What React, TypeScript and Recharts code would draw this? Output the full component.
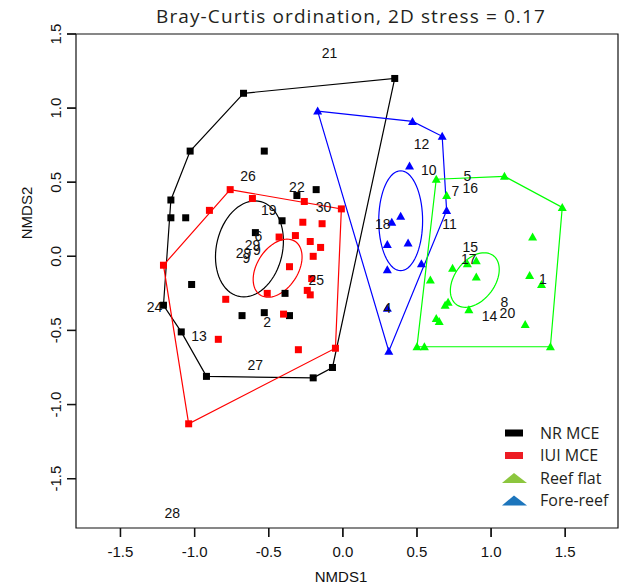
import React from 'react'
import { ScatterChart, Scatter, XAxis, YAxis, ReferenceArea } from 'recharts'

const X_TICKS = [-1.5, -1.0, -0.5, 0.0, 0.5, 1.0, 1.5]
const Y_TICKS = [-1.5, -1.0, -0.5, 0.0, 0.5, 1.0, 1.5]
const X_DOMAIN: [number, number] = [-1.8, 1.856]
const Y_DOMAIN: [number, number] = [-1.833, 1.5]

// NR MCE sites (black squares)
const nrX = [-0.67, 0.35, -0.53, -1.03, -1.16, -1.16, -1.06, -0.18, -0.31, -0.41, -0.59, -1.02, -0.39, -1.21, -1.09, -0.92, -0.2, -0.07, -0.68, -0.53, -0.36]
const nrY = [1.1, 1.2, 0.71, 0.71, 0.38, 0.26, 0.26, 0.45, 0.41, 0.24, 0.16, -0.19, -0.25, -0.33, -0.51, -0.81, -0.82, -0.75, -0.4, -0.38, -0.4]
const nrHull = [0, 1, 17, 16, 15, 14, 13, 4, 3, 0]

// IUI MCE sites (red squares)
const iuiX = [-0.76, -0.9, -1.21, -0.61, -0.26, -0.01, -0.27, -0.14, -0.43, -0.32, -0.22, -0.15, -0.2, -0.36, -0.21, -0.51, -0.24, -0.22, -0.79, -0.4, -0.84, -0.3, -0.05, -1.04]
const iuiY = [0.45, 0.31, -0.06, 0.39, 0.37, 0.32, 0.23, 0.22, 0.13, 0.14, 0.1, 0.06, 0.0, -0.07, -0.15, -0.25, -0.23, -0.26, -0.29, -0.39, -0.56, -0.63, -0.62, -1.13]
const iuiHull = [2, 0, 5, 22, 23, 2]

// Fore-reef sites (blue triangles)
const foreX = [-0.17, 0.47, 0.67, 0.45, 0.7, 0.33, 0.39, 0.3, 0.44, 0.53, 0.3, 0.3, 0.31]
const foreY = [0.98, 0.91, 0.81, 0.61, 0.31, 0.23, 0.27, 0.08, 0.09, -0.05, -0.09, -0.35, -0.64]
const foreHull = [0, 1, 2, 4, 12, 0]

// Reef flat sites (green triangles)
const flatX = [0.63, 1.09, 1.48, 0.7, 1.28, 1.26, 1.34, 0.74, 0.59, 0.84, 0.9, 0.9, 0.69, 0.71, 0.85, 0.63, 0.65, 1.23, 0.5, 0.55, 1.4]
const flatY = [0.52, 0.54, 0.33, 0.41, 0.13, -0.13, -0.19, -0.08, -0.16, -0.05, -0.03, -0.14, -0.33, -0.31, -0.36, -0.42, -0.44, -0.46, -0.61, -0.61, -0.61]
const flatHull = [0, 1, 2, 20, 19, 18, 0]

// ordiellipse: centre, top semi-diameter (ux, uy), horizontal conjugate semi-diameter vx
const ellNR = { cx: -0.63, cy: 0.05, ux: 0.038, uy: 0.324, vx: 0.226 }
const ellIUI = { cx: -0.44, cy: -0.08, ux: 0.064, uy: 0.196, vx: 0.152 }
const ellFore = { cx: 0.39, cy: 0.24, ux: 0.0, uy: 0.337, vx: 0.148 }
const ellFlat = { cx: 0.89, cy: -0.16, ux: 0.064, uy: 0.184, vx: 0.152 }

// site numbers
const siteLabels = ['21', '12', '10', '5', '7', '16', '11', '18', '15', '17', '1', '8', '20', '14', '26', '22', '30', '19', '6', '29', '9', '29', '9', '25', '24', '13', '2', '27', '28', '4']
const siteX = [-0.09, 0.53, 0.58, 0.84, 0.76, 0.86, 0.72, 0.27, 0.86, 0.85, 1.35, 1.09, 1.11, 0.99, -0.64, -0.31, -0.13, -0.5, -0.57, -0.61, -0.58, -0.67, -0.65, -0.18, -1.27, -0.97, -0.51, -0.59, -1.15, 0.3]
const siteY = [1.37, 0.76, 0.58, 0.54, 0.44, 0.46, 0.22, 0.22, 0.06, -0.02, -0.15, -0.31, -0.38, -0.4, 0.54, 0.47, 0.33, 0.31, 0.14, 0.08, 0.04, 0.02, -0.01, -0.16, -0.34, -0.54, -0.44, -0.73, -1.73, -0.35]

const LEGEND = [
  { name: 'NR MCE', color: '#000000', mark: 'square' },
  { name: 'IUI MCE', color: '#ED1C24', mark: 'square' },
  { name: 'Reef flat', color: '#8CC63E', mark: 'triangle' },
  { name: 'Fore-reef', color: '#1C75BC', mark: 'triangle' },
]

const AXIS_FONT = "'Liberation Sans', Arial, sans-serif"
const TITLE_FONT = "'Open Sans', 'Noto Sans', sans-serif"

function zip(xs: number[], ys: number[]) {
  return xs.map((x, i) => ({ x, y: ys[i] }))
}

function hull(xs: number[], ys: number[], idx: number[]) {
  return idx.map((i) => ({ x: xs[i], y: ys[i] }))
}

function ellipse(e: { cx: number; cy: number; ux: number; uy: number; vx: number }) {
  const pts = []
  for (let i = 0; i <= 72; i++) {
    const t = (i / 72) * Math.PI * 2
    pts.push({ x: e.cx + e.ux * Math.cos(t) + e.vx * Math.sin(t), y: e.cy + e.uy * Math.cos(t) })
  }
  return pts
}

const squareShape = (color: string) => (p: any) => (
  <rect x={p.cx - 3.5} y={p.cy - 3.5} width={7} height={7} fill={color} />
)

const triangleShape = (color: string) => (p: any) => (
  <polygon
    points={`${p.cx},${p.cy - 4.5} ${p.cx + 4.5},${p.cy + 3.5} ${p.cx - 4.5},${p.cy + 3.5}`}
    fill={color}
  />
)

const noShape = () => <g />

const labelShape = (p: any) => (
  <text
    x={p.cx}
    y={p.cy}
    dy="0.36em"
    textAnchor="middle"
    fontSize={14}
    fontFamily={AXIS_FONT}
    fill="#111"
  >
    {p.payload?.label ?? p.label}
  </text>
)

function XTick(props: any) {
  const { x, y, payload } = props
  return (
    <g>
      <path d={`M${x},${y - 9}V${y}`} stroke="#111" strokeWidth={1.3} fill="none" />
      <text x={x} y={y + 20} textAnchor="middle" fontSize={15} fontFamily={AXIS_FONT} fill="#111">
        {payload.value.toFixed(1)}
      </text>
    </g>
  )
}

function YTick(props: any) {
  const { x, y, payload } = props
  return (
    <g>
      <path d={`M${x},${y}H${x + 9}`} stroke="#111" strokeWidth={1.3} fill="none" />
      <text
        transform={`translate(${x - 6},${y}) rotate(-90)`}
        textAnchor="middle"
        fontSize={15}
        fontFamily={AXIS_FONT}
        fill="#111"
      >
        {payload.value.toFixed(1)}
      </text>
    </g>
  )
}

const groups = [
  { key: 'nr', xs: nrX, ys: nrY, hullIdx: nrHull, ell: ellNR, line: '#000000', shape: squareShape('#000000') },
  { key: 'iui', xs: iuiX, ys: iuiY, hullIdx: iuiHull, ell: ellIUI, line: '#FF0000', shape: squareShape('#FF0000') },
  { key: 'fore', xs: foreX, ys: foreY, hullIdx: foreHull, ell: ellFore, line: '#0000FF', shape: triangleShape('#0000FF') },
  { key: 'flat', xs: flatX, ys: flatY, hullIdx: flatHull, ell: ellFlat, line: '#00FF00', shape: triangleShape('#00FF00') },
]

export default function App() {
  const labels = siteLabels.map((label, i) => ({ x: siteX[i], y: siteY[i], label }))

  return (
    <div style={{ position: 'absolute', left: 0, top: 0, width: 638, height: 587, background: '#fff' }}>
      <ScatterChart width={638} height={587} margin={{ top: 34, right: 20, bottom: 19, left: 36 }}>
        <XAxis
          type="number"
          dataKey="x"
          domain={X_DOMAIN}
          ticks={X_TICKS}
          interval={0}
          height={40}
          axisLine={false}
          stroke="#111"
          tickSize={9}
          tickMargin={0}
          tickLine={{ stroke: '#111', strokeWidth: 1.3 }}
          tick={<XTick />}
        />
        <YAxis
          type="number"
          dataKey="y"
          domain={Y_DOMAIN}
          ticks={Y_TICKS}
          interval={0}
          width={40}
          axisLine={false}
          stroke="#111"
          tickSize={9}
          tickMargin={0}
          tickLine={{ stroke: '#111', strokeWidth: 1.3 }}
          tick={<YTick />}
        />
        <ReferenceArea
          x1={X_DOMAIN[0]}
          x2={X_DOMAIN[1]}
          y1={Y_DOMAIN[0]}
          y2={Y_DOMAIN[1]}
          fill="none"
          fillOpacity={0}
          stroke="#111"
          strokeWidth={1.2}
        />
        {groups.map((g) => (
          <Scatter
            key={g.key + '-hull'}
            data={hull(g.xs, g.ys, g.hullIdx)}
            line={{ stroke: g.line, strokeWidth: 1.2 }}
            lineType="joint"
            shape={noShape}
            isAnimationActive={false}
          />
        ))}
        {groups.map((g) => (
          <Scatter
            key={g.key + '-ell'}
            data={ellipse(g.ell)}
            line={{ stroke: g.line, strokeWidth: 1.2 }}
            lineType="joint"
            shape={noShape}
            isAnimationActive={false}
          />
        ))}
        {groups.map((g) => (
          <Scatter key={g.key + '-pts'} data={zip(g.xs, g.ys)} shape={g.shape} isAnimationActive={false} />
        ))}
        <Scatter data={labels} shape={labelShape} isAnimationActive={false} />
      </ScatterChart>

      <svg
        width={638}
        height={587}
        style={{ position: 'absolute', left: 0, top: 0, pointerEvents: 'none' }}
      >
        <text x={351} y={23} textAnchor="middle" fontSize={19} letterSpacing={1.1} fontFamily={TITLE_FONT} fill="#231F20">
          Bray-Curtis ordination, 2D stress = 0.17
        </text>
        <text x={341} y={582} textAnchor="middle" fontSize={15} fontFamily={AXIS_FONT} fill="#111">
          NMDS1
        </text>
        <text
          transform="translate(32,213) rotate(-90)"
          textAnchor="middle"
          fontSize={15}
          fontFamily={AXIS_FONT}
          fill="#111"
        >
          NMDS2
        </text>
        {LEGEND.map((item, i) => {
          const cy = 433 + i * 22.5
          return (
            <g key={item.name}>
              {item.mark === 'square' ? (
                <rect x={505} y={cy - 3.5} width={18} height={7} fill={item.color} />
              ) : (
                <polygon points={`514,${cy - 5} 527,${cy + 5} 502,${cy + 5}`} fill={item.color} />
              )}
              <text x={540} y={cy + 5.5} fontSize={16} fontFamily={TITLE_FONT} fill="#231F20">
                {item.name}
              </text>
            </g>
          )
        })}
      </svg>
    </div>
  )
}
